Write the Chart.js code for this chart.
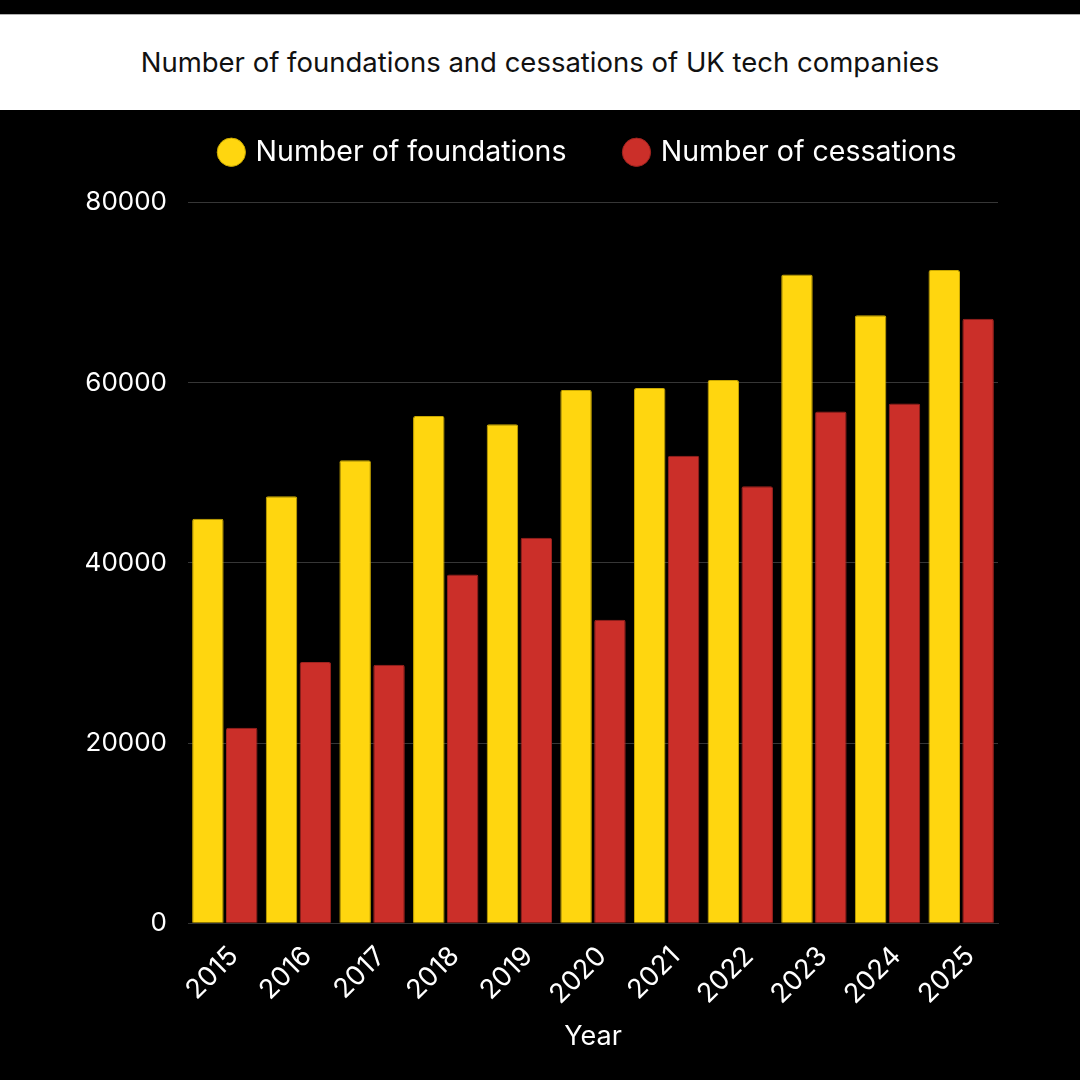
<!DOCTYPE html>
<html>
<head>
<meta charset="utf-8">
<script src="https://cdn.jsdelivr.net/npm/chart.js@4.4.1/dist/chart.umd.min.js"></script>
<style>
  html, body { margin: 0; padding: 0; background: #000; overflow: hidden; }
  #band {
    position: absolute; left: 0; top: 14px; width: 1080px; height: 96px;
    background: #fff; border-top: 1px solid #b0b0b0; box-sizing: border-box;
    font-family: Inter, sans-serif; font-size: 27.5px; color: #111;
    text-align: center; line-height: 94px;
  }
  #chart { position: absolute; left: 0; top: 0; }
</style>
</head>
<body>
<div id="band">Number of foundations and cessations of UK tech companies</div>
<canvas id="chart" width="1080" height="1080"></canvas>
<script>
const years = ["2015", "2016", "2017", "2018", "2019", "2020", "2021", "2022", "2023", "2024", "2025"];
const foundations = [44900, 47400, 51400, 56300, 55400, 59200, 59400, 60300, 72000, 67500, 72500];
const cessations = [21700, 29000, 28700, 38700, 42800, 33700, 51900, 48500, 56800, 57700, 67100];
const yMax = 80000;
const yStep = 20000;

const yellow = "#ffd60f";
const red = "#cb2f29";
const font = "Inter, sans-serif";

// the legend spans the canvas minus the right padding; move it to sit where the original has it
const legendShift = {
  id: "legendShift",
  afterLayout(chart) {
    chart.legend.left += 90;
    chart.legend.right += 90;
  }
};

let ctx = document.getElementById("chart").getContext("2d");
let myChart = new Chart(ctx, {
  type: "bar",
  data: {
    labels: years,
    datasets: [
      {
        label: "Number of foundations",
        data: foundations,
        backgroundColor: yellow,
        borderColor: "#c9a800",
        borderWidth: 1,
        borderRadius: 2,
        borderSkipped: "bottom"
      },
      {
        label: "Number of cessations",
        data: cessations,
        backgroundColor: red,
        borderColor: "#9e231f",
        borderWidth: 1,
        borderRadius: 2,
        borderSkipped: "bottom"
      }
    ]
  },
  plugins: [legendShift],
  options: {
    responsive: false,
    animation: false,
    devicePixelRatio: 1,
    categoryPercentage: 0.92,
    barPercentage: 0.93,
    layout: { padding: { left: 0, right: 82, top: 78, bottom: 17 } },
    plugins: {
      legend: {
        position: "top",
        labels: {
          color: "#fff",
          font: { family: font, size: 28.5 },
          usePointStyle: true,
          pointStyle: "circle",
          boxWidth: 20,
          boxHeight: 20,
          padding: 60
        }
      },
      subtitle: {
        display: true,
        text: "",
        weight: 500,
        font: { size: 1, lineHeight: 1 },
        padding: { top: 0, bottom: 25 }
      },
      tooltip: { enabled: false }
    },
    scales: {
      x: {
        grid: { display: false, drawTicks: false },
        border: { color: "#333" },
        ticks: {
          color: "#fff",
          font: { family: font, size: 27 },
          maxRotation: 45,
          minRotation: 45,
          padding: 17,
          labelOffset: 9
        },
        title: {
          display: true,
          text: "Year",
          color: "#fff",
          font: { family: font, size: 27 },
          padding: { top: -7, bottom: 10 }
        }
      },
      y: {
        min: 0,
        max: yMax,
        afterFit(scale) { scale.width = 188; },
        grid: { color: "#363636", drawTicks: false },
        border: { display: false },
        ticks: {
          stepSize: yStep,
          color: "#fff",
          font: { family: font, size: 26 },
          padding: 21,
          callback: (v) => String(v)
        }
      }
    }
  }
});
</script>
</body>
</html>
